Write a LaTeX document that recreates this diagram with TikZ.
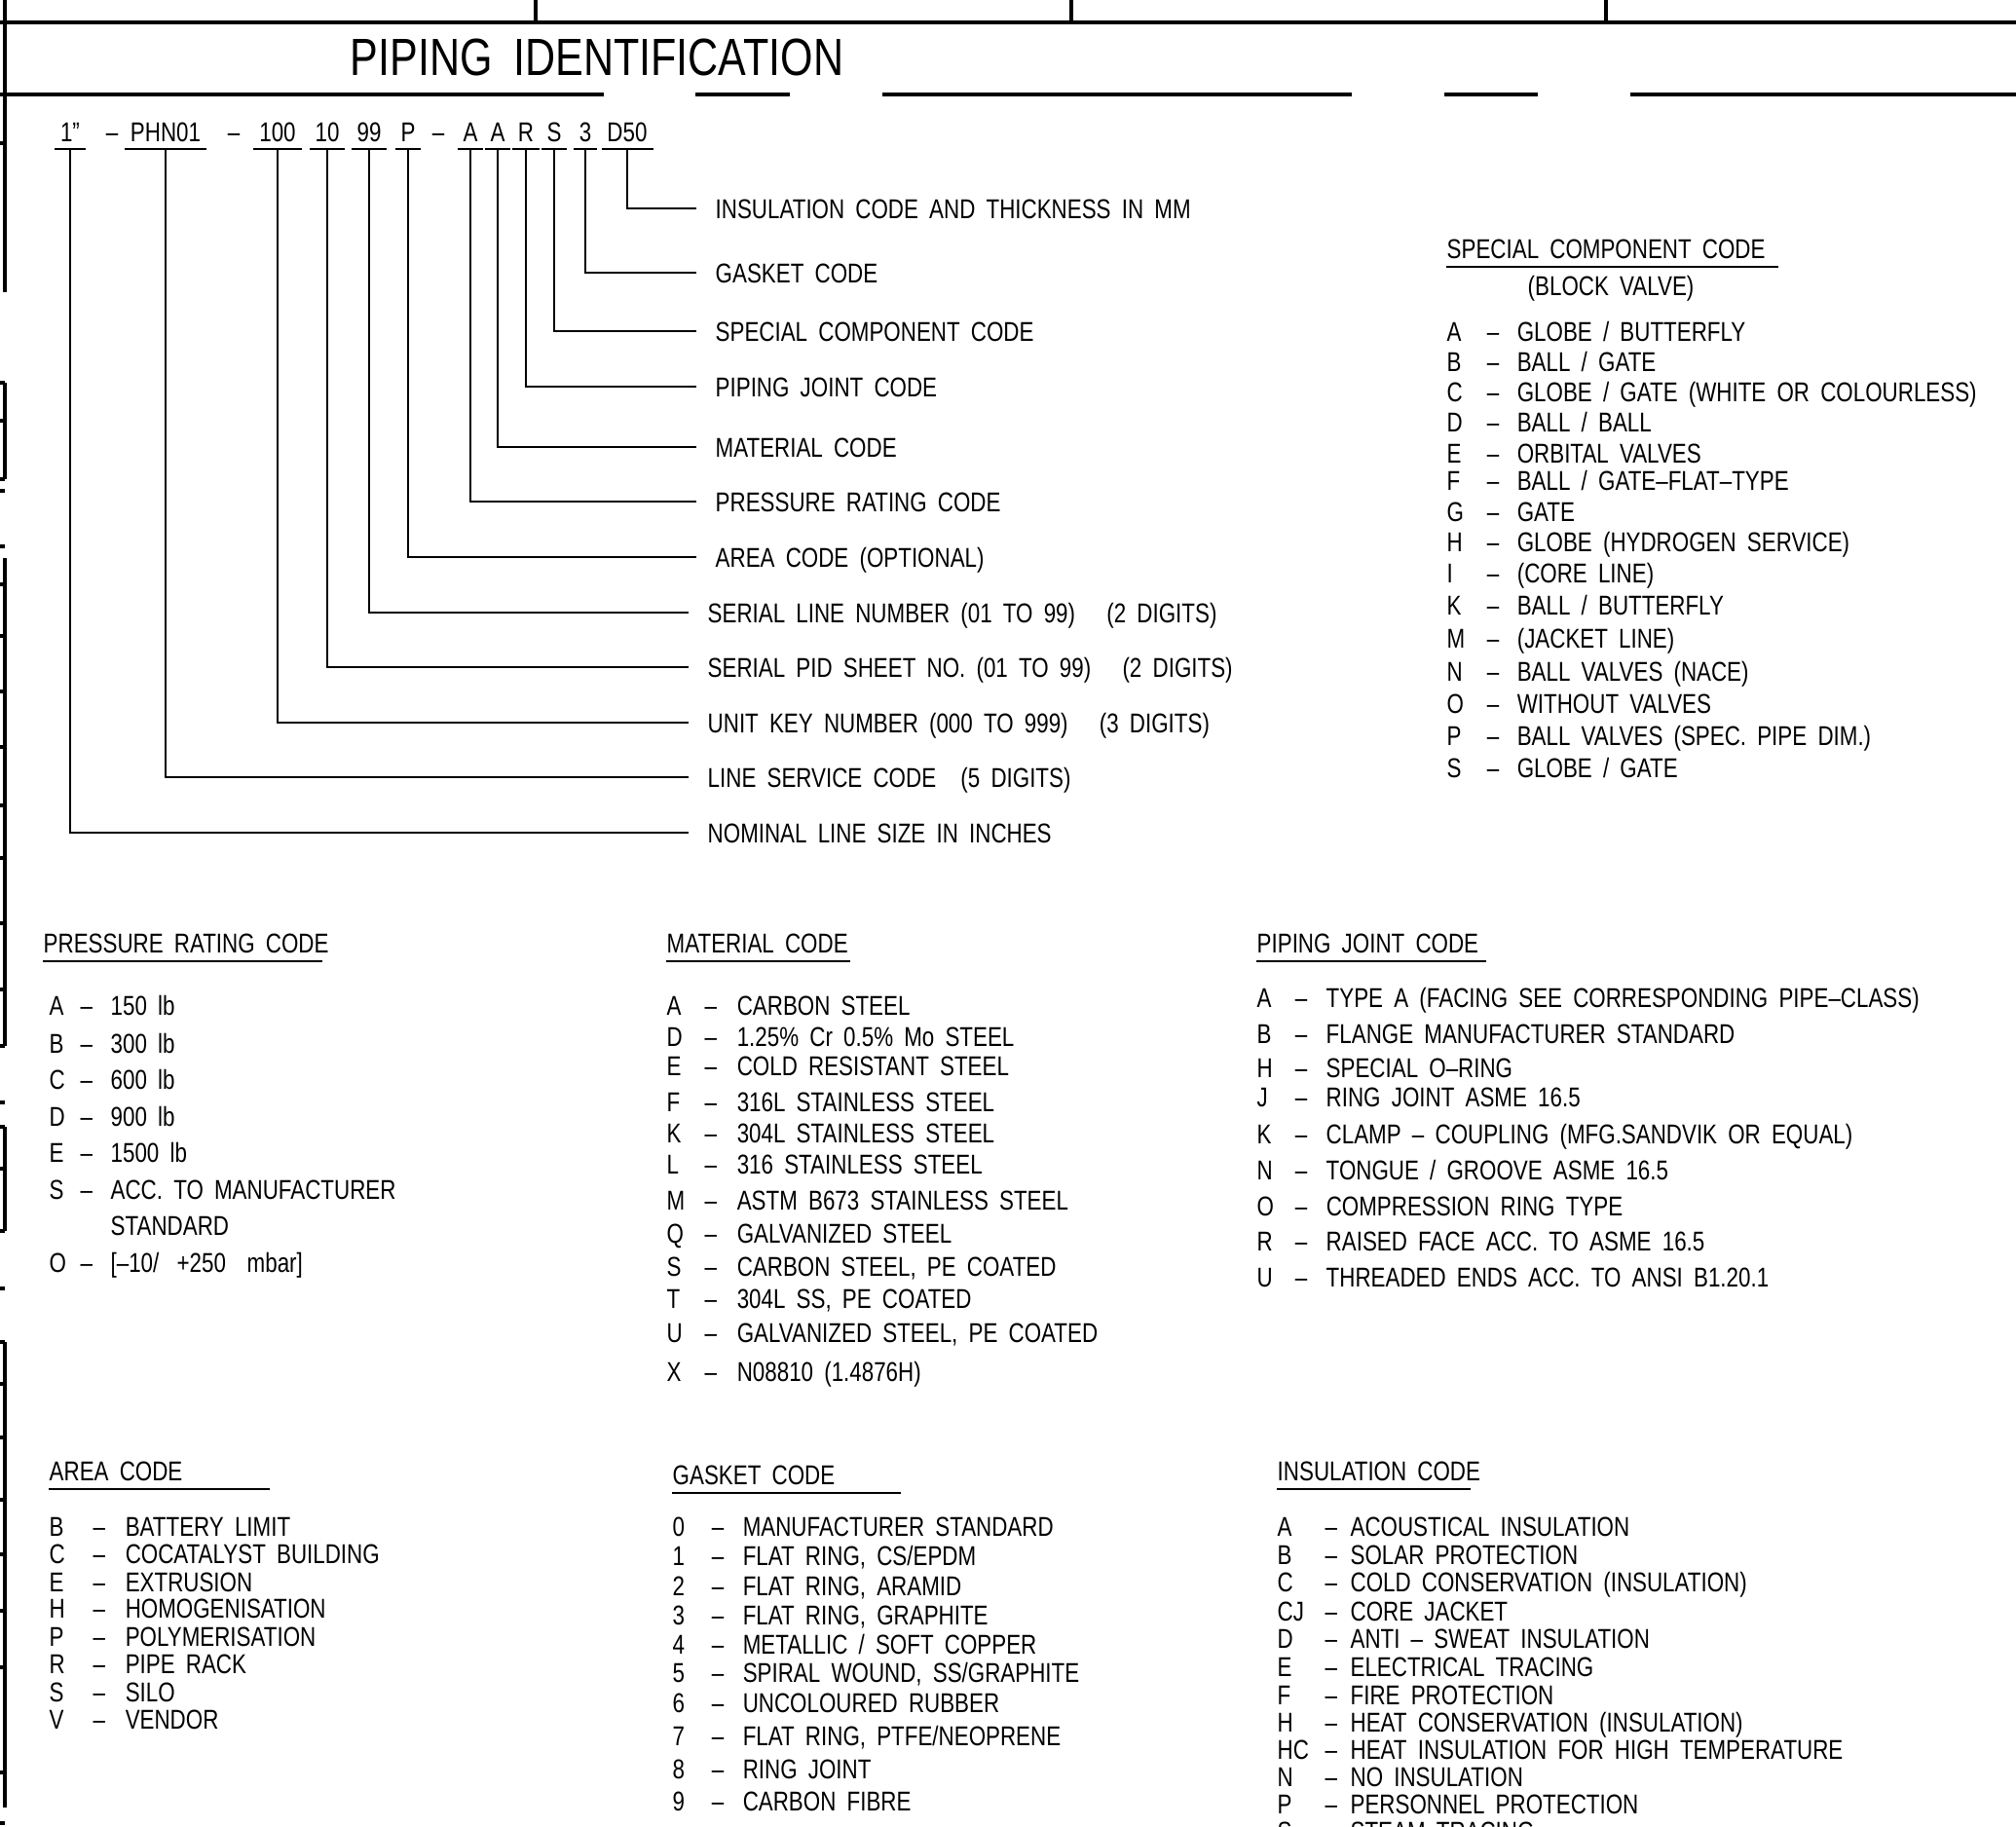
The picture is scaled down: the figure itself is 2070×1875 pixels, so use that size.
\documentclass[tikz,border=0pt]{standalone}
\usepackage{fontspec}
\setmainfont[FakeStretch=0.8,WordSpace=1.8]{Liberation Sans}
\newcommand{\cadfont}{\fontsize{7.95pt}{9pt}\selectfont}
\newcommand{\cadtitle}{\fontsize{15.3pt}{18pt}\selectfont}

\tikzset{
  frame/.style={line width=0.9pt},
  lead/.style={line width=0.6pt},
  codeseg/.style={anchor=base, font=\cadfont, inner xsep=1.5pt, inner ysep=2.1pt, text depth=0pt},
  codelbl/.style={anchor=west, font=\cadfont, inner xsep=5.4pt, inner ysep=0pt, text height=5.7pt, text depth=0pt},
  listhead/.style={anchor=base west, font=\cadfont, inner xsep=0pt, inner ysep=2.4pt, text depth=0pt},
  listitem/.style={anchor=base west, font=\cadfont, inner sep=0pt}
}

\begin{document}
\begin{tikzpicture}[x=0.01cm,y=-0.01cm]
  \clip (0,0) rectangle (2070,1875);

  % sheet frame
  \draw[frame] (0,23) -- (2070,23);
  \foreach \x in {550,1100,1649} \draw[frame] (\x,0) -- (\x,23);
  \foreach \a/\b in {0/620,714/811,906/1388,1483/1579,1674/2070} \draw[frame] (\a,97) -- (\b,97);
  \foreach \a/\b in {0/300,393/492,573/1074,1157/1264,1378/1856} \draw[frame] (5,\a) -- (5,\b);
  \foreach \y in {147,393,432,492,504,561,600,653,710,767,827,881,948,1016,1074,1132,1157,1200,1264,1323,1378,1421,1476,1540,1596,1654,1712,1820,1872}
    \draw[frame] (0,\y) -- (5,\y);

  \node[anchor=base, font=\cadtitle, inner sep=0pt] (title) at (613,77) {PIPING IDENTIFICATION};

  % line number
  \node[codeseg] (sz) at (72,145) {1”};
  \node[codeseg] (d1) at (115,145) {–};
  \node[codeseg] (svc) at (170,145) {PHN01};
  \node[codeseg] (d2) at (240,145) {–};
  \node[codeseg] (unit) at (285,145) {100};
  \node[codeseg] (sheet) at (336,145) {10};
  \node[codeseg] (serial) at (379,145) {99};
  \node[codeseg] (area) at (419,145) {P};
  \node[codeseg] (d3) at (450,145) {–};
  \node[codeseg] (press) at (483,145) {A};
  \node[codeseg] (mat) at (511,145) {A};
  \node[codeseg] (joint) at (540,145) {R};
  \node[codeseg] (spec) at (569,145) {S};
  \node[codeseg] (gask) at (601,145) {3};
  \node[codeseg] (insul) at (644,145) {D50};

  \node[codelbl] (linsul) at (715,214) {INSULATION CODE AND THICKNESS IN MM};
  \node[codelbl] (lgask) at (715,280) {GASKET CODE};
  \node[codelbl] (lspec) at (715,340) {SPECIAL COMPONENT CODE};
  \node[codelbl] (ljoint) at (715,397) {PIPING JOINT CODE};
  \node[codelbl] (lmat) at (715,459) {MATERIAL CODE};
  \node[codelbl] (lpress) at (715,515) {PRESSURE RATING CODE};
  \node[codelbl] (larea) at (715,572) {AREA CODE (OPTIONAL)};
  \node[codelbl] (lserial) at (707,629) {SERIAL LINE NUMBER (01 TO 99)\hspace{6pt} (2 DIGITS)};
  \node[codelbl] (lsheet) at (707,685) {SERIAL PID SHEET NO. (01 TO 99)\hspace{6pt} (2 DIGITS)};
  \node[codelbl] (lunit) at (707,742) {UNIT KEY NUMBER (000 TO 999)\hspace{6pt} (3 DIGITS)};
  \node[codelbl] (lsvc) at (707,798) {LINE SERVICE CODE\hspace{4pt} (5 DIGITS)};
  \node[codelbl] (lsz) at (707,855) {NOMINAL LINE SIZE IN INCHES};

  \foreach \n in {sz,svc,unit,sheet,serial,area,press,mat,joint,spec,gask,insul} {
    \draw[lead] (\n.south west) -- (\n.south east);
    \draw[lead] (\n.south) |- (l\n.west);
  }

  % special component code
  \node[listhead] (spch) at (1485,265) {SPECIAL COMPONENT CODE};
  \draw[lead] (spch.south west) -- ++(341,0);
  \node[listitem] (spcs) at (1568,303) {(BLOCK VALVE)};
  \foreach \y/\k/\t [count=\i] in {340/A/{GLOBE / BUTTERFLY},371/B/{BALL / GATE},402/C/{GLOBE / GATE (WHITE OR COLOURLESS)},
      433/D/{BALL / BALL},465/E/{ORBITAL VALVES},493/F/{BALL / GATE–FLAT–TYPE},525/G/{GATE},556/H/{GLOBE (HYDROGEN SERVICE)},
      588/I/{(CORE LINE)},621/K/{BALL / BUTTERFLY},655/M/{(JACKET LINE)},689/N/{BALL VALVES (NACE)},722/O/{WITHOUT VALVES},
      755/P/{BALL VALVES (SPEC. PIPE DIM.)},788/S/{GLOBE / GATE}}
    \node[listitem] (spc\i) at (1485,\y+10) {\makebox[11.7pt][l]{\k}\makebox[8.8pt][l]{–}\t};

  % pressure rating code
  \node[listhead] (prch) at (44,978) {PRESSURE RATING CODE};
  \draw[lead] (prch.south west) -- ++(287,0);
  \foreach \y/\k/\t [count=\i] in {1032/A/{150 lb},1071/B/{300 lb},1108/C/{600 lb},1146/D/{900 lb},1183/E/{1500 lb},
      1221/S/{ACC. TO MANUFACTURER},1296/O/{[–10/\hspace{2pt} +250\hspace{3pt} mbar]}}
    \node[listitem] (prc\i) at (50,\y+10) {\makebox[9.1pt][l]{\k}\makebox[8.8pt][l]{–}\t};
  \node[listitem] (prcs) at (113,1268) {STANDARD};

  % material code
  \node[listhead] (math) at (684,978) {MATERIAL CODE};
  \draw[lead] (math.south west) -- ++(189,0);
  \foreach \y/\k/\t [count=\i] in {1032/A/{CARBON STEEL},1064/D/{1.25\% Cr 0.5\% Mo STEEL},1094/E/{COLD RESISTANT STEEL},
      1131/F/{316L STAINLESS STEEL},1163/K/{304L STAINLESS STEEL},1195/L/{316 STAINLESS STEEL},
      1232/M/{ASTM B673 STAINLESS STEEL},1266/Q/{GALVANIZED STEEL},1300/S/{CARBON STEEL, PE COATED},
      1333/T/{304L SS, PE COATED},1368/U/{GALVANIZED STEEL, PE COATED},1408/X/{N08810 (1.4876H)}}
    \node[listitem] (mtc\i) at (684,\y+10) {\makebox[11.1pt][l]{\k}\makebox[9.4pt][l]{–}\t};

  % piping joint code
  \node[listhead] (pjch) at (1290,978) {PIPING JOINT CODE};
  \draw[lead] (pjch.south west) -- ++(236,0);
  \foreach \y/\k/\t [count=\i] in {1024/A/{TYPE A (FACING SEE CORRESPONDING PIPE–CLASS)},1061/B/{FLANGE MANUFACTURER STANDARD},
      1096/H/{SPECIAL O–RING},1126/J/{RING JOINT ASME 16.5},1164/K/{CLAMP – COUPLING (MFG.SANDVIK OR EQUAL)},
      1201/N/{TONGUE / GROOVE ASME 16.5},1238/O/{COMPRESSION RING TYPE},1274/R/{RAISED FACE ACC. TO ASME 16.5},
      1311/U/{THREADED ENDS ACC. TO ANSI B1.20.1}}
    \node[listitem] (pjc\i) at (1290,\y+10) {\makebox[11.1pt][l]{\k}\makebox[9.1pt][l]{–}\t};

  % area code
  \node[listhead] (arch) at (50,1520) {AREA CODE};
  \draw[lead] (arch.south west) -- ++(227,0);
  \foreach \y/\k/\t [count=\i] in {1567/B/{BATTERY LIMIT},1595/C/{COCATALYST BUILDING},1624/E/{EXTRUSION},
      1651/H/{HOMOGENISATION},1680/P/{POLYMERISATION},1708/R/{PIPE RACK},1737/S/{SILO},1765/V/{VENDOR}}
    \node[listitem] (arc\i) at (50,\y+10) {\makebox[12.8pt][l]{\k}\makebox[9.4pt][l]{–}\t};

  % gasket code
  \node[listhead] (gkch) at (690,1524) {GASKET CODE};
  \draw[lead] (gkch.south west) -- ++(235,0);
  \foreach \y/\k/\t [count=\i] in {1567/0/{MANUFACTURER STANDARD},1597/1/{FLAT RING, CS/EPDM},1628/2/{FLAT RING, ARAMID},
      1658/3/{FLAT RING, GRAPHITE},1688/4/{METALLIC / SOFT COPPER},1717/5/{SPIRAL WOUND, SS/GRAPHITE},
      1748/6/{UNCOLOURED RUBBER},1782/7/{FLAT RING, PTFE/NEOPRENE},1816/8/{RING JOINT},1849/9/{CARBON FIBRE}}
    \node[listitem] (gkc\i) at (690,\y+10) {\makebox[11.4pt][l]{\k}\makebox[9.1pt][l]{–}\t};

  % insulation code
  \node[listhead] (inch) at (1311,1520) {INSULATION CODE};
  \draw[lead] (inch.south west) -- ++(199,0);
  \foreach \y/\k/\t [count=\i] in {1567/A/{ACOUSTICAL INSULATION},1596/B/{SOLAR PROTECTION},1624/C/{COLD CONSERVATION (INSULATION)},
      1654/CJ/{CORE JACKET},1682/D/{ANTI – SWEAT INSULATION},1711/E/{ELECTRICAL TRACING},1740/F/{FIRE PROTECTION},
      1768/H/{HEAT CONSERVATION (INSULATION)},1796/HC/{HEAT INSULATION FOR HIGH TEMPERATURE},1824/N/{NO INSULATION},
      1852/P/{PERSONNEL PROTECTION},1880/S/{STEAM TRACING}}
    \node[listitem] (inc\i) at (1311,\y+10) {\makebox[13.9pt][l]{\k}\makebox[7.4pt][l]{–}\t};
\end{tikzpicture}
\end{document}
